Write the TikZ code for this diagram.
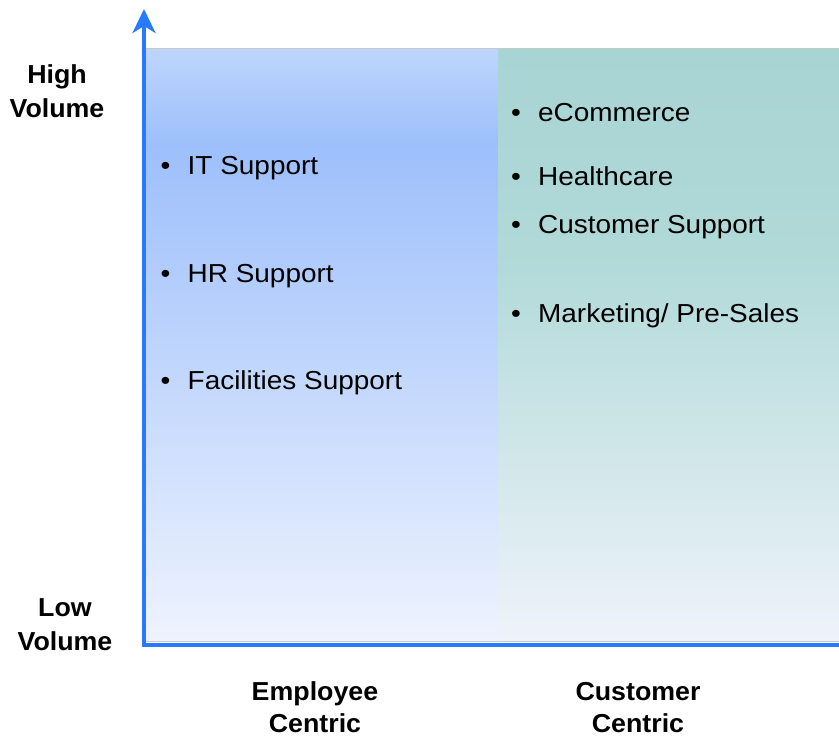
\documentclass[tikz,border=0pt]{standalone}
\usepackage{fontspec}
\setmainfont{Liberation Sans}
\newfontfamily\entryfont[FakeStretch=1.075]{Liberation Sans}
\newfontfamily\labelfont[FakeStretch=1.03]{Liberation Sans Bold}
\usetikzlibrary{arrows.meta}

\definecolor{axisblue}{RGB}{41,121,255}
\definecolor{empTop}{RGB}{190,213,253}
\definecolor{empMid}{RGB}{157,191,251}
\definecolor{empBot}{RGB}{238,243,254}
\definecolor{cusTop}{RGB}{168,212,211}
\definecolor{cusMid}{RGB}{176,217,216}
\definecolor{cusBot}{RGB}{238,243,250}
\definecolor{frame}{RGB}{200,200,200}

\tikzset{
  axislabel/.style={anchor=base, inner sep=0pt, font=\labelfont\fontsize{26}{34}\selectfont},
  entry/.style={anchor=base west, inner sep=0pt, font=\entryfont\fontsize{26}{34}\selectfont},
  axisline/.style={draw=axisblue, line width=4pt, line join=miter},
}
\newcommand{\bulletitem}[1]{\makebox[27pt][l]{\textbullet}#1}

\begin{document}
\begin{tikzpicture}[x=1pt, y=-1pt]
  \useasboundingbox (0,0) rectangle (839,736);

  % employee-centric quadrant: blue vertical gradient
  \shade[top color=empTop, bottom color=empMid] (146,48) rectangle (498,145);
  \shade[top color=empMid, bottom color=empBot] (146,144.5) rectangle (498,641);

  % customer-centric quadrant: teal vertical gradient
  \shade[top color=cusTop, bottom color=cusMid] (498,48) rectangle (845,250);
  \shade[top color=cusMid, bottom color=cusBot] (498,249.5) rectangle (845,641);

  % thin frame around the chart area
  \draw[frame, line width=1pt] (146,48) -- (845,48);
  \draw[frame, line width=1pt] (146,641) -- (845,641);

  % axes
  \coordinate (ytip) at (144,9);
  \coordinate (origin) at (144,645);
  \coordinate (xend) at (845,645);
  \draw[axisline, {Stealth[length=24pt, width=23pt, inset=7pt]}-] (ytip) -- (origin) -- (xend);

  % vertical axis labels
  \node[axislabel] (high-a) at (57,83) {High};
  \node[axislabel] (high-b) at (57,117) {Volume};
  \node[axislabel] (low-a) at (65,616) {Low};
  \node[axislabel] (low-b) at (65,650) {Volume};

  % horizontal axis labels
  \node[axislabel] (emp-a) at (315,700) {Employee};
  \node[axislabel] (emp-b) at (315,732) {Centric};
  \node[axislabel] (cus-a) at (638,700) {Customer};
  \node[axislabel] (cus-b) at (638,732) {Centric};

  % employee-centric use cases
  \node[entry] (it) at (160.5,174) {\bulletitem{IT Support}};
  \node[entry] (hr) at (160.5,282) {\bulletitem{HR Support}};
  \node[entry] (fac) at (160.5,389) {\bulletitem{Facilities Support}};

  % customer-centric use cases
  \node[entry] (ecom) at (511,121) {\bulletitem{eCommerce}};
  \node[entry] (health) at (511,185) {\bulletitem{Healthcare}};
  \node[entry] (cs) at (511,233) {\bulletitem{Customer Support}};
  \node[entry] (mkt) at (511,322) {\bulletitem{Marketing/ Pre-Sales}};
\end{tikzpicture}
\end{document}
